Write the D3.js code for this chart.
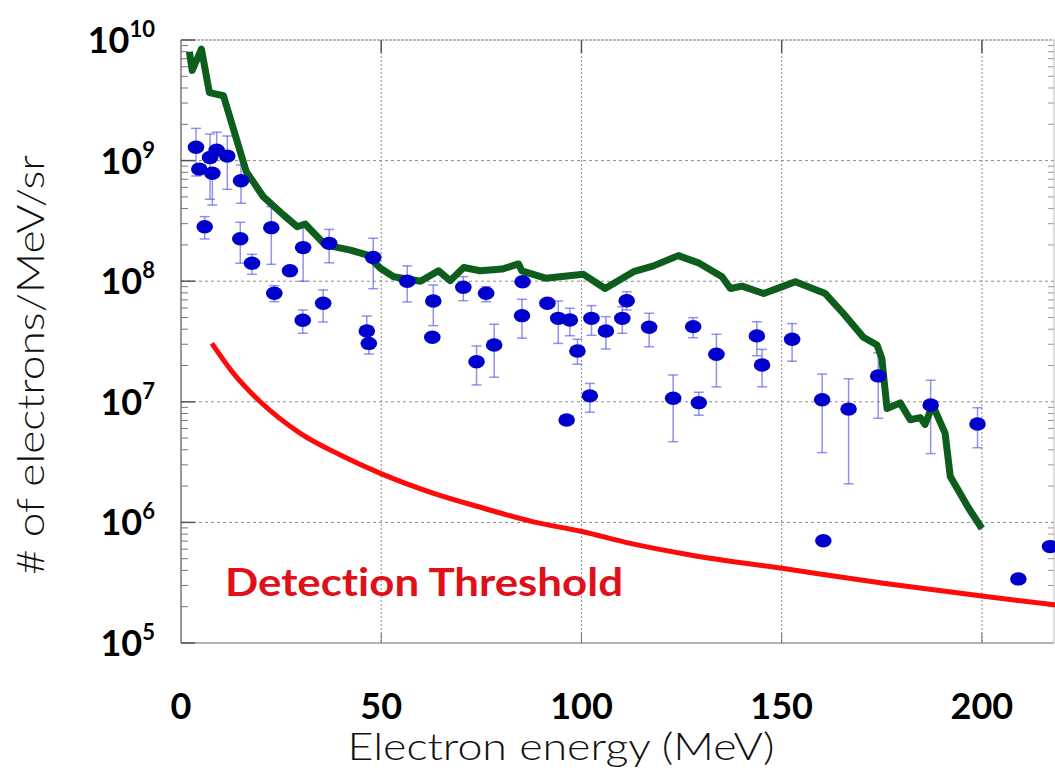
<!DOCTYPE html>
<html>
<head>
<meta charset="utf-8">
<script src="https://cdn.jsdelivr.net/npm/d3@7"></script>
<style>
  body { margin: 0; background: #fff; }
  svg { display: block; }
  text { font-variant-ligatures: none; }
</style>
</head>
<body>
<div id="chart"></div>
<script>
// simulation curve (green)
const simE = [2.1, 2.8, 5.1, 7.1, 10.6, 16.3, 20.6, 25.6, 29.0, 31.0, 36.0, 42.3, 46.4, 49.8, 53.1, 59.8, 64.3, 67.2, 70.6, 74.7, 80.2, 84.3, 85.1, 91.0, 100.5, 105.9, 113.0, 118.0, 124.2, 129.2, 135.1, 137.2, 140.1, 145.5, 150.5, 153.4, 160.9, 165.4, 170.4, 173.8, 175.0, 176.3, 179.6, 182.1, 184.6, 185.8, 187.7, 190.8, 192.1, 196.7, 200.0]
const simN = [8.0e9, 5.6e9, 8.4e9, 3.66e9, 3.45e9, 8.1e8, 5.0e8, 3.54e8, 2.83e8, 2.98e8, 2.0e8, 1.81e8, 1.65e8, 1.28e8, 1.09e8, 1.0e8, 1.22e8, 1.01e8, 1.30e8, 1.22e8, 1.26e8, 1.39e8, 1.22e8, 1.06e8, 1.14e8, 8.7e7, 1.20e8, 1.34e8, 1.63e8, 1.42e8, 1.09e8, 8.7e7, 9.1e7, 7.9e7, 9.1e7, 9.9e7, 7.9e7, 5.4e7, 3.43e7, 2.96e7, 2.3e7, 8.8e6, 9.8e6, 7.1e6, 7.4e6, 6.5e6, 9.4e6, 5.5e6, 2.4e6, 1.31e6, 8.9e5]

// detection threshold (red)
const thrE = [7.7, 13.1, 19.8, 29.8, 39.8, 49.8, 63.1, 75.6, 88.0, 100.1, 112.2, 127.2, 150.1, 175.4, 200.0, 218.3]
const thrN = [3.05e7, 1.72e7, 1.0e7, 5.48e6, 3.62e6, 2.55e6, 1.74e6, 1.31e6, 1.01e6, 8.4e5, 6.7e5, 5.37e5, 4.16e5, 3.13e5, 2.45e5, 2.07e5]

// measured points with error bars (null = no bar visible)
const expE  = [3.75, 4.57, 7.24, 8.91, 7.82, 11.56, 14.98, 5.92, 14.8, 17.73, 22.55, 27.2, 30.5, 37.0, 48.0, 23.3, 35.5, 30.4, 46.4, 46.9, 56.5, 63.0, 62.75, 70.5, 76.2, 73.8, 78.2, 85.3, 85.15, 91.5, 94.2, 97.1, 99.0, 102.5, 106.1, 102.1, 96.3, 110.2, 111.3, 116.9, 122.9, 127.9, 129.3, 133.7, 143.8, 145.1, 152.6, 160.1, 166.7, 174.1, 187.2, 198.9, 160.4, 209.1, 217.0]
const expN  = [1.29e9, 8.5e8, 1.06e9, 1.22e9, 7.85e8, 1.09e9, 6.8e8, 2.83e8, 2.25e8, 1.41e8, 2.78e8, 1.22e8, 1.90e8, 2.06e8, 1.57e8, 7.94e7, 6.56e7, 4.74e7, 3.86e7, 3.05e7, 1.0e8, 6.86e7, 3.43e7, 8.9e7, 7.94e7, 2.15e7, 2.96e7, 9.9e7, 5.18e7, 6.56e7, 4.92e7, 4.77e7, 2.64e7, 4.92e7, 3.86e7, 1.12e7, 7.07e6, 4.92e7, 6.89e7, 4.15e7, 1.07e7, 4.2e7, 9.84e6, 2.48e7, 3.52e7, 2.02e7, 3.30e7, 1.04e7, 8.7e6, 1.64e7, 9.4e6, 6.55e6, 7.05e5, 3.4e5, 6.3e5]
const expHi = [1.85e9, null, 1.66e9, 1.72e9, null, 1.6e9, 9.2e8, 3.43e8, 3.08e8, 1.67e8, 4.15e8, null, 2.92e8, 2.69e8, 2.27e8, 9.18e7, 8.46e7, 5.77e7, 5.14e7, null, 1.34e8, 9.3e7, null, 1.09e8, 9.0e7, 2.9e7, 4.4e7, null, 7.08e7, null, 6.85e7, 5.96e7, 3.3e7, 6.27e7, 5.08e7, 1.42e7, null, 6.15e7, 8.18e7, 5.42e7, 1.67e7, 4.98e7, 1.2e7, 3.63e7, 4.61e7, 2.72e7, 4.45e7, 1.70e7, 1.55e7, 2.55e7, 1.51e7, 8.93e6, null, null, null]
const expLo = [7.45e8, null, 4.78e8, null, 4.28e8, 5.78e8, 4.43e8, 2.24e8, 1.41e8, 1.14e8, 1.38e8, null, 1.0e8, 1.42e8, 8.67e7, 6.76e7, 4.59e7, 3.70e7, null, 2.49e7, 6.73e7, 4.28e7, null, 6.89e7, 6.76e7, 1.38e7, 1.6e7, null, 3.37e7, null, 3.05e7, 3.53e7, 2.05e7, 3.56e7, 2.74e7, 8.2e6, null, 3.70e7, 5.77e7, 2.86e7, 4.67e6, 3.4e7, 7.73e6, 1.33e7, 2.41e7, 1.33e7, 2.17e7, 3.79e6, 2.09e6, 7.3e6, 3.72e6, 4.16e6, null, null, null]

const xTicks = [0, 50, 100, 150, 200]
const yPowers = [5, 6, 7, 8, 9, 10]

let drawChart=()=>{
  const W = 1055, H = 771
  const left = 181, right = 1054, top = 40, bottom = 643

  const x = d3.scaleLinear().domain([0, 218]).range([left, right])
  const y = d3.scaleLog().domain([1e5, 1e10]).range([bottom, top])

  const svg = d3.select('#chart').append('svg')
    .attr('width', W)
    .attr('height', H)

  svg.append('defs').append('clipPath').attr('id', 'clip')
    .append('rect')
    .attr('x', left).attr('y', top)
    .attr('width', W - left).attr('height', bottom - top)

  // grid
  const grid = svg.append('g')
  grid.selectAll('.gx')
    .data(xTicks.filter(d => d > 0))
    .enter().append('line')
    .attr('x1', d => x(d)).attr('x2', d => x(d))
    .attr('y1', top).attr('y2', bottom)
    .style('stroke', '#8a8a8a').style('stroke-width', 1)
    .style('stroke-dasharray', '2,2')
  grid.selectAll('.gy')
    .data(yPowers.filter(p => p > 5 && p < 10))
    .enter().append('line')
    .attr('x1', left).attr('x2', right)
    .attr('y1', p => y(Math.pow(10, p))).attr('y2', p => y(Math.pow(10, p)))
    .style('stroke', '#8a8a8a').style('stroke-width', 1)
    .style('stroke-dasharray', '3,3')

  // frame
  svg.append('line')
    .attr('x1', left).attr('x2', right).attr('y1', top).attr('y2', top)
    .style('stroke', '#777').style('stroke-width', 1.2).style('stroke-dasharray', '3,1')
  svg.append('line')
    .attr('x1', left).attr('x2', right).attr('y1', bottom).attr('y2', bottom)
    .style('stroke', '#999').style('stroke-width', 1.5)
  svg.append('line')
    .attr('x1', left).attr('x2', left).attr('y1', top).attr('y2', bottom)
    .style('stroke', '#777').style('stroke-width', 1.5)
  svg.append('line')
    .attr('x1', right).attr('x2', right).attr('y1', top).attr('y2', bottom)
    .style('stroke', '#bbb').style('stroke-width', 1)

  // minor / major ticks on left and right
  const minor = []
  yPowers.slice(0, -1).forEach(p => {
    for (let k = 2; k < 10; k++) minor.push(k * Math.pow(10, p))
  })
  const ticks = svg.append('g')
  ticks.selectAll('.ml')
    .data(minor).enter().append('line')
    .attr('x1', left).attr('x2', left + 7)
    .attr('y1', d => y(d)).attr('y2', d => y(d))
    .style('stroke', '#777').style('stroke-width', 1)
  ticks.selectAll('.mr')
    .data(minor).enter().append('line')
    .attr('x1', right - 6).attr('x2', right)
    .attr('y1', d => y(d)).attr('y2', d => y(d))
    .style('stroke', '#999').style('stroke-width', 1)
  ticks.selectAll('.Ml')
    .data(yPowers).enter().append('line')
    .attr('x1', left).attr('x2', left + 14)
    .attr('y1', p => y(Math.pow(10, p))).attr('y2', p => y(Math.pow(10, p)))
    .style('stroke', '#555').style('stroke-width', 1.5)
  ticks.selectAll('.Mt')
    .data(xTicks.filter(d => d > 0)).enter().append('line')
    .attr('x1', d => x(d)).attr('x2', d => x(d))
    .attr('y1', top).attr('y2', top + 13)
    .style('stroke', '#555').style('stroke-width', 1.5)
  ticks.selectAll('.Mb')
    .data(xTicks.filter(d => d > 0)).enter().append('line')
    .attr('x1', d => x(d)).attr('x2', d => x(d))
    .attr('y1', bottom - 10).attr('y2', bottom)
    .style('stroke', '#777').style('stroke-width', 1)

  const plot = svg.append('g').attr('clip-path', 'url(#clip)')

  // error bars
  const bars = plot.append('g')
    .style('stroke', '#4a4ae6').style('stroke-opacity', 0.6).style('stroke-width', 1.5)
  expE.forEach((e, i) => {
    const cx = x(e)
    const ends = [expHi[i], expLo[i]]
    ends.forEach(v => {
      if (v === null) return
      bars.append('line')
        .attr('x1', cx).attr('x2', cx)
        .attr('y1', y(expN[i])).attr('y2', y(v))
      bars.append('line')
        .attr('x1', cx - 5).attr('x2', cx + 5)
        .attr('y1', y(v)).attr('y2', y(v))
    })
  })

  // threshold
  const line = d3.line().x(d => x(d[0])).y(d => y(d[1]))
  plot.append('path')
    .datum(thrE.map((e, i) => [e, thrN[i]]))
    .attr('d', line.curve(d3.curveMonotoneX))
    .style('fill', 'none').style('stroke', '#ff0a0a').style('stroke-width', 5)

  // simulation
  plot.append('path')
    .datum(simE.map((e, i) => [e, simN[i]]))
    .attr('d', d3.line().x(d => x(d[0])).y(d => y(d[1])))
    .style('fill', 'none').style('stroke', '#0d5e1c').style('stroke-width', 7)
    .style('stroke-linejoin', 'round')

  // points
  plot.selectAll('.pt')
    .data(expE).enter().append('ellipse')
    .attr('cx', d => x(d))
    .attr('cy', (d, i) => y(expN[i]))
    .attr('rx', 8.3).attr('ry', 6.7)
    .style('fill', '#0000cc')

  // tick labels
  svg.selectAll('.xl')
    .data(xTicks).enter().append('text')
    .attr('x', d => x(d)).attr('y', 719)
    .attr('text-anchor', 'middle')
    .style('font-family', 'Lato, sans-serif').style('font-weight', 'bold')
    .style('font-size', '36px').style('fill', '#000')
    .text(d => d)

  const yl = svg.selectAll('.yl')
    .data(yPowers).enter().append('text')
    .attr('x', 155).attr('y', p => y(Math.pow(10, p)) + 13)
    .attr('text-anchor', 'end')
    .style('font-family', 'Lato, sans-serif').style('font-weight', 'bold')
    .style('font-size', '36px').style('fill', '#000')
  yl.append('tspan').text('10')
  yl.append('tspan').attr('dy', -16).style('font-size', '22px').text(p => p)

  // titles
  svg.append('text')
    .attr('x', 561).attr('y', 760)
    .attr('text-anchor', 'middle')
    .attr('textLength', 427).attr('lengthAdjust', 'spacingAndGlyphs')
    .style('font-family', 'Lato, sans-serif').style('font-weight', 300)
    .style('font-size', '37px').style('fill', '#111')
    .text('Electron energy (MeV)')

  svg.append('text')
    .attr('transform', 'translate(44,365) rotate(-90)')
    .attr('text-anchor', 'middle')
    .attr('textLength', 420).attr('lengthAdjust', 'spacingAndGlyphs')
    .style('font-family', 'Lato, sans-serif').style('font-weight', 300)
    .style('font-size', '37px').style('fill', '#111')
    .text('# of electrons/MeV/sr')

  svg.append('text')
    .attr('x', 225).attr('y', 596)
    .attr('textLength', 398).attr('lengthAdjust', 'spacingAndGlyphs')
    .style('font-family', 'Lato, sans-serif').style('font-weight', 'bold')
    .style('font-size', '39px').style('fill', '#e0101a')
    .text('Detection Threshold')
}

drawChart()
</script>
</body>
</html>
